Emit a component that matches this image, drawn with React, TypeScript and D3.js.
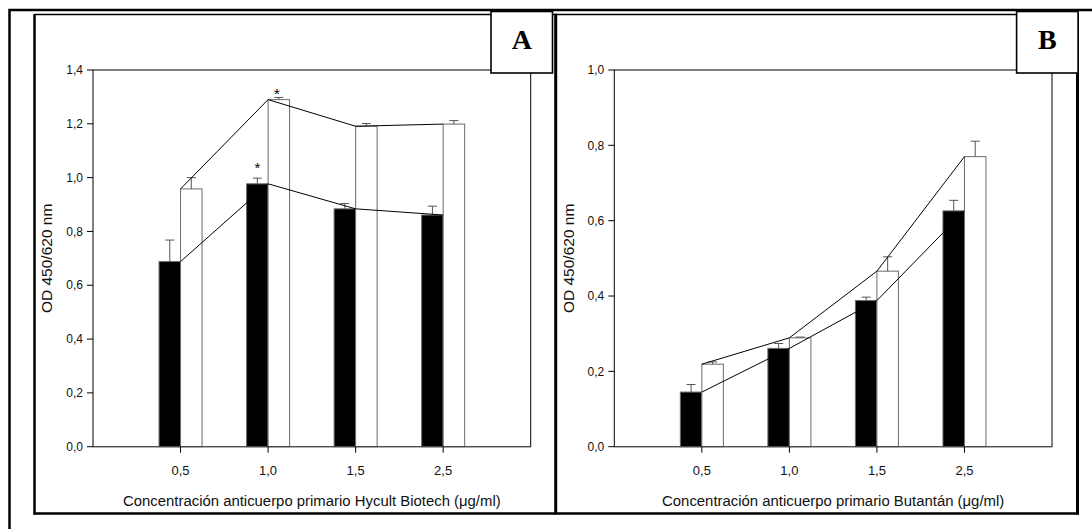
import React from "react";
import * as d3 from "d3";

const categories = ["0,5", "1,0", "1,5", "2,5"];

const yTicksA = [0, 0.2, 0.4, 0.6, 0.8, 1.0, 1.2, 1.4];
const yTicksB = [0, 0.2, 0.4, 0.6, 0.8, 1.0];

const hycultBlack = [0.688, 0.977, 0.884, 0.861];
const hycultBlackErr = [0.08, 0.021, 0.02, 0.033];
const hycultWhite = [0.958, 1.29, 1.191, 1.199];
const hycultWhiteErr = [0.042, 0.008, 0.01, 0.013];
const hycultBlackSig = ["", "*", "", ""];
const hycultWhiteSig = ["", "*", "", ""];

const butantanBlack = [0.145, 0.261, 0.388, 0.626];
const butantanBlackErr = [0.02, 0.013, 0.009, 0.028];
const butantanWhite = [0.219, 0.289, 0.466, 0.77];
const butantanWhiteErr = [0.006, 0.002, 0.038, 0.041];
const butantanBlackSig = ["", "", "", ""];
const butantanWhiteSig = ["", "", "", ""];

const FONT = "'Liberation Sans', Arial, sans-serif";
const fmt = (v: number) => d3.format(".1f")(v).replace(".", ",");

type PanelProps = {
  ox: number;
  yMax: number;
  yTicks: number[];
  black: number[];
  blackErr: number[];
  white: number[];
  whiteErr: number[];
  blackSig: string[];
  whiteSig: string[];
  xTitle: string;
};

function Panel(p: PanelProps) {
  const left = 93 + p.ox;
  const right = 530.7 + p.ox;
  const top = 70;
  const base = 446.7;
  const bw = 21.5;
  const x = d3.scaleLinear().domain([0, categories.length + 1]).range([left, right]);
  const y = d3.scaleLinear().domain([0, p.yMax]).range([base, top]);
  const line = d3
    .line<number>()
    .x((_, i) => x(i + 1))
    .y((d) => y(d));
  const cx = (left + right) / 2;
  const cy = (top + base) / 2;
  const errCol = "#555";
  const barStroke = "#6a6a6a";

  return (
    <g>
      {p.black.map((v, i) => (
        <rect
          key={"b" + i}
          x={x(i + 1) - bw}
          y={y(v)}
          width={bw}
          height={base - y(v)}
          fill="#000"
          stroke={barStroke}
          strokeWidth={1}
        />
      ))}
      {p.white.map((v, i) => (
        <rect
          key={"w" + i}
          x={x(i + 1)}
          y={y(v)}
          width={bw}
          height={base - y(v)}
          fill="#fff"
          stroke={barStroke}
          strokeWidth={1}
        />
      ))}
      {p.black.map((v, i) => {
        const bx = x(i + 1) - bw / 2;
        return (
          <g key={"be" + i} stroke={errCol} strokeWidth={1}>
            <line x1={bx} x2={bx} y1={y(v)} y2={y(v + p.blackErr[i])} />
            <line x1={bx - 4.5} x2={bx + 4.5} y1={y(v + p.blackErr[i])} y2={y(v + p.blackErr[i])} />
          </g>
        );
      })}
      {p.white.map((v, i) => {
        const bx = x(i + 1) + bw / 2;
        return (
          <g key={"we" + i} stroke={errCol} strokeWidth={1}>
            <line x1={bx} x2={bx} y1={y(v)} y2={y(v + p.whiteErr[i])} />
            <line x1={bx - 4.5} x2={bx + 4.5} y1={y(v + p.whiteErr[i])} y2={y(v + p.whiteErr[i])} />
          </g>
        );
      })}
      <path d={line(p.black) || ""} fill="none" stroke="#000" strokeWidth={1} />
      <path d={line(p.white) || ""} fill="none" stroke="#000" strokeWidth={1} />
      {p.blackSig.map((s, i) =>
        s ? (
          <text key={"bs" + i} x={x(i + 1) - bw / 2} y={y(p.black[i] + p.blackErr[i]) - 5} textAnchor="middle" fontFamily={FONT} fontSize={15} fill="#000">
            {s}
          </text>
        ) : null
      )}
      {p.whiteSig.map((s, i) =>
        s ? (
          <text key={"ws" + i} x={x(i + 1) + bw / 2 - 2} y={y(p.white[i] + p.whiteErr[i]) + 2} textAnchor="middle" fontFamily={FONT} fontSize={15} fill="#000">
            {s}
          </text>
        ) : null
      )}
      <rect x={left} y={top} width={right - left} height={base - top} fill="none" stroke="#000" strokeWidth={1} />
      <line x1={left} x2={right} y1={base} y2={base} stroke="#555" strokeWidth={1} />
      {p.yTicks.map((t) => (
        <g key={"yt" + t}>
          <line x1={left - 6} x2={left} y1={y(t)} y2={y(t)} stroke="#000" strokeWidth={1} />
          <text x={left - 10} y={y(t)} dy="0.35em" textAnchor="end" fontFamily={FONT} fontSize={12} fill="#111">
            {fmt(t)}
          </text>
        </g>
      ))}
      {categories.map((c, i) => (
        <g key={"xt" + i}>
          <line x1={x(i + 1)} x2={x(i + 1)} y1={base} y2={base + 6} stroke="#000" strokeWidth={1} />
          <text x={x(i + 1)} y={base + 24} dy="0.35em" textAnchor="middle" fontFamily={FONT} fontSize={13} fill="#111">
            {c}
          </text>
        </g>
      ))}
      <text x={cx} y={505.5} textAnchor="middle" fontFamily={FONT} fontSize={14.9} fill="#111">
        {p.xTitle}
      </text>
      <text
        transform={`translate(${47 + p.ox},${cy}) rotate(-90)`}
        textAnchor="middle"
        dy="0.35em"
        fontFamily={FONT}
        fontSize={15.5}
        fill="#111"
      >
        OD 450/620 nm
      </text>
    </g>
  );
}

export default function App() {
  const ox = 521.3;
  return (
    <svg
      width={1092}
      height={529}
      style={{ position: "absolute", left: 0, top: 0, background: "#fff" }}
    >
      <rect x={0} y={0} width={1092} height={529} fill="#fff" />
      <rect x={9.5} y={10} width={1200} height={600} fill="none" stroke="#000" strokeWidth={2.5} />
      <line x1={34.5} x2={1078} y1={14.5} y2={14.5} stroke="#000" strokeWidth={1.5} />
      <line x1={34.5} x2={34.5} y1={14} y2={514.5} stroke="#000" strokeWidth={2.5} />
      <line x1={33.5} x2={1079} y1={513.5} y2={513.5} stroke="#000" strokeWidth={2.5} />
      <line x1={555.7} x2={555.7} y1={13.7} y2={514.5} stroke="#000" strokeWidth={3} />
      <line x1={1077.5} x2={1077.5} y1={13.7} y2={514.5} stroke="#000" strokeWidth={3} />

      <Panel
        ox={0}
        yMax={1.4}
        yTicks={yTicksA}
        black={hycultBlack}
        blackErr={hycultBlackErr}
        white={hycultWhite}
        whiteErr={hycultWhiteErr}
        blackSig={hycultBlackSig}
        whiteSig={hycultWhiteSig}
        xTitle="Concentración anticuerpo primario Hycult Biotech (μg/ml)"
      />
      <Panel
        ox={ox}
        yMax={1.0}
        yTicks={yTicksB}
        black={butantanBlack}
        blackErr={butantanBlackErr}
        white={butantanWhite}
        whiteErr={butantanWhiteErr}
        blackSig={butantanBlackSig}
        whiteSig={butantanWhiteSig}
        xTitle="Concentración anticuerpo primario Butantán (μg/ml)"
      />

      {["A", "B"].map((l, k) => {
        const bx = 491 + k * 525.6;
        return (
          <g key={l}>
            <rect x={bx} y={11.5} width={61.5} height={61.5} fill="#fff" stroke="#000" strokeWidth={1.6} />
            <text
              x={bx + 30.75}
              y={49}
              textAnchor="middle"
              fontFamily="'Liberation Serif', 'Times New Roman', serif"
              fontWeight="bold"
              fontSize={28}
              fill="#000"
            >
              {l}
            </text>
          </g>
        );
      })}
    </svg>
  );
}
